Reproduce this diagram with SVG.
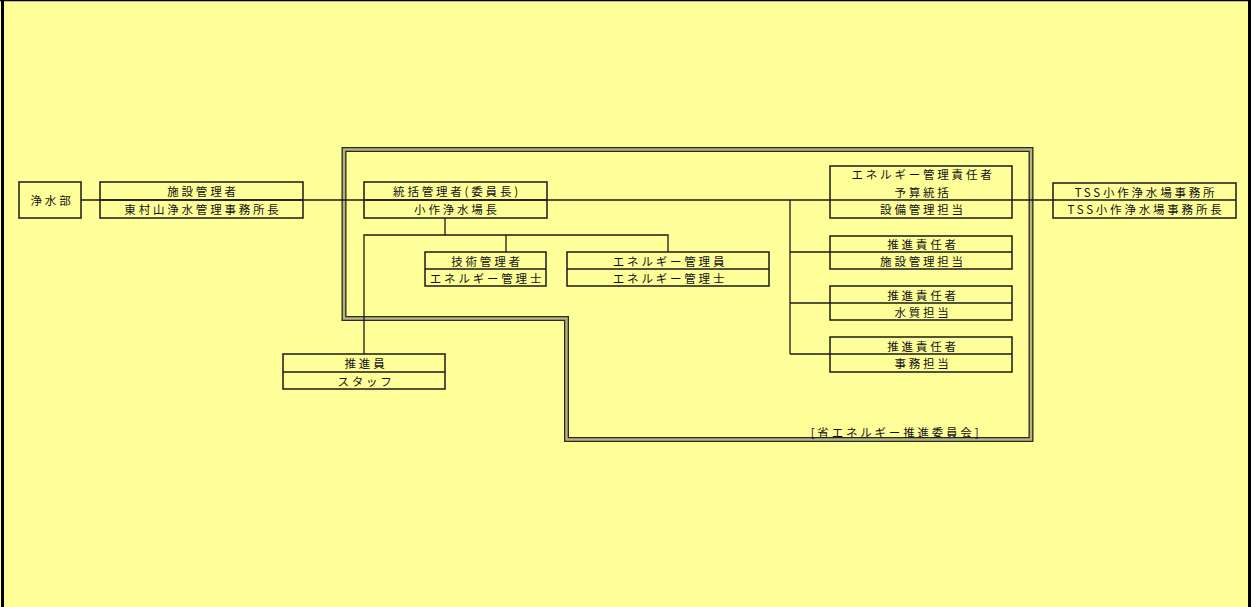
<svg xmlns="http://www.w3.org/2000/svg" width="1251" height="607" viewBox="0 0 1251 607">
<style>
.bg{fill:#FFFF99}
.box{fill:none;stroke:#1a1a1a;stroke-width:1.5}
.ln{fill:none;stroke:#1a1a1a;stroke-width:1.3}
.t{font-family:"Noto Sans CJK JP","Liberation Sans",sans-serif;font-size:11.5px;fill:#111;text-anchor:middle;dominant-baseline:central;letter-spacing:2.8px}
.encl{fill:none;stroke:#2a2a1a;stroke-width:5;stroke-linejoin:miter}
.encl2{fill:none;stroke:#b4b482;stroke-width:2.4;stroke-linejoin:miter}
</style>
<rect class="bg" x="0" y="0" width="1251" height="607"/>
<g id="frame">
<line x1="0" y1="0.5" x2="1251" y2="0.5" stroke="#000" stroke-width="1.5"/>
<line x1="2.5" y1="0" x2="2.5" y2="607" stroke="#000" stroke-width="3"/>
<line x1="1249.5" y1="0" x2="1249.5" y2="607" stroke="#000" stroke-width="3"/>
</g>
<g id="committee">
<path class="encl" d="M344,149.5 H1031 V439.5 H566.5 V318.5 H344 Z"/>
<path class="encl2" d="M344,149.5 H1031 V439.5 H566.5 V318.5 H344 Z"/>
<text class="t" x="896" y="432">[省エネルギー推進委員会]</text>
</g>
<g id="connectors">
<line class="ln" x1="81" y1="200" x2="1053" y2="200"/>
<line class="ln" x1="445" y1="218" x2="445" y2="235"/>
<polyline class="ln" points="364,354 364,235 668,235 668,252"/>
<line class="ln" x1="506" y1="235" x2="506" y2="252"/>
<line class="ln" x1="790" y1="200" x2="790" y2="354"/>
<line class="ln" x1="790" y1="252" x2="830" y2="252"/>
<line class="ln" x1="790" y1="303" x2="830" y2="303"/>
<line class="ln" x1="790" y1="354" x2="830" y2="354"/>
</g>
<g id="n-josuibu">
<rect class="box" x="19" y="182" width="62" height="36"/>
<text class="t" x="52" y="200">浄水部</text>
</g>
<g id="n-shisetsu">
<rect class="box" x="100" y="182" width="203" height="36"/>
<line class="box" x1="100" y1="200" x2="303" y2="200"/>
<text class="t" x="203" y="191">施設管理者</text>
<text class="t" x="203" y="209">東村山浄水管理事務所長</text>
</g>
<g id="n-tokatsu">
<rect class="box" x="364" y="182" width="183" height="36"/>
<line class="box" x1="364" y1="200" x2="547" y2="200"/>
<text class="t" x="457" y="191">統括管理者(委員長)</text>
<text class="t" x="457" y="209">小作浄水場長</text>
</g>
<g id="n-gijutsu">
<rect class="box" x="425" y="252" width="121" height="34"/>
<line class="box" x1="425" y1="269" x2="546" y2="269"/>
<text class="t" x="487" y="260.5">技術管理者</text>
<text class="t" x="487" y="277.5">エネルギー管理士</text>
</g>
<g id="n-kanriin">
<rect class="box" x="567" y="252" width="202" height="34"/>
<line class="box" x1="567" y1="269" x2="769" y2="269"/>
<text class="t" x="670" y="260.5">エネルギー管理員</text>
<text class="t" x="670" y="277.5">エネルギー管理士</text>
</g>
<g id="n-suishinin">
<rect class="box" x="283" y="354" width="162" height="35"/>
<line class="box" x1="283" y1="372" x2="445" y2="372"/>
<text class="t" x="366" y="363">推進員</text>
<text class="t" x="366" y="380.5">スタッフ</text>
</g>
<g id="n-sekininsha">
<rect class="box" x="830" y="166" width="182" height="52"/>
<text class="t" x="923" y="174">エネルギー管理責任者</text>
<text class="t" x="923" y="191.5">予算統括</text>
<text class="t" x="923" y="209">設備管理担当</text>
</g>
<g id="n-shisetsutanto">
<rect class="box" x="830" y="236" width="182" height="33"/>
<line class="box" x1="830" y1="252" x2="1012" y2="252"/>
<text class="t" x="923" y="244">推進責任者</text>
<text class="t" x="923" y="261">施設管理担当</text>
</g>
<g id="n-suishitsu">
<rect class="box" x="830" y="286" width="182" height="34"/>
<line class="box" x1="830" y1="303" x2="1012" y2="303"/>
<text class="t" x="923" y="295">推進責任者</text>
<text class="t" x="923" y="312">水質担当</text>
</g>
<g id="n-jimu">
<rect class="box" x="830" y="337" width="182" height="35"/>
<line class="box" x1="830" y1="354" x2="1012" y2="354"/>
<text class="t" x="923" y="345.5">推進責任者</text>
<text class="t" x="923" y="363">事務担当</text>
</g>
<g id="n-tss">
<rect class="box" x="1053" y="183" width="183" height="35"/>
<line class="box" x1="1053" y1="200" x2="1236" y2="200"/>
<text class="t" x="1146" y="191.5">TSS小作浄水場事務所</text>
<text class="t" x="1146" y="209">TSS小作浄水場事務所長</text>
</g>
</svg>
